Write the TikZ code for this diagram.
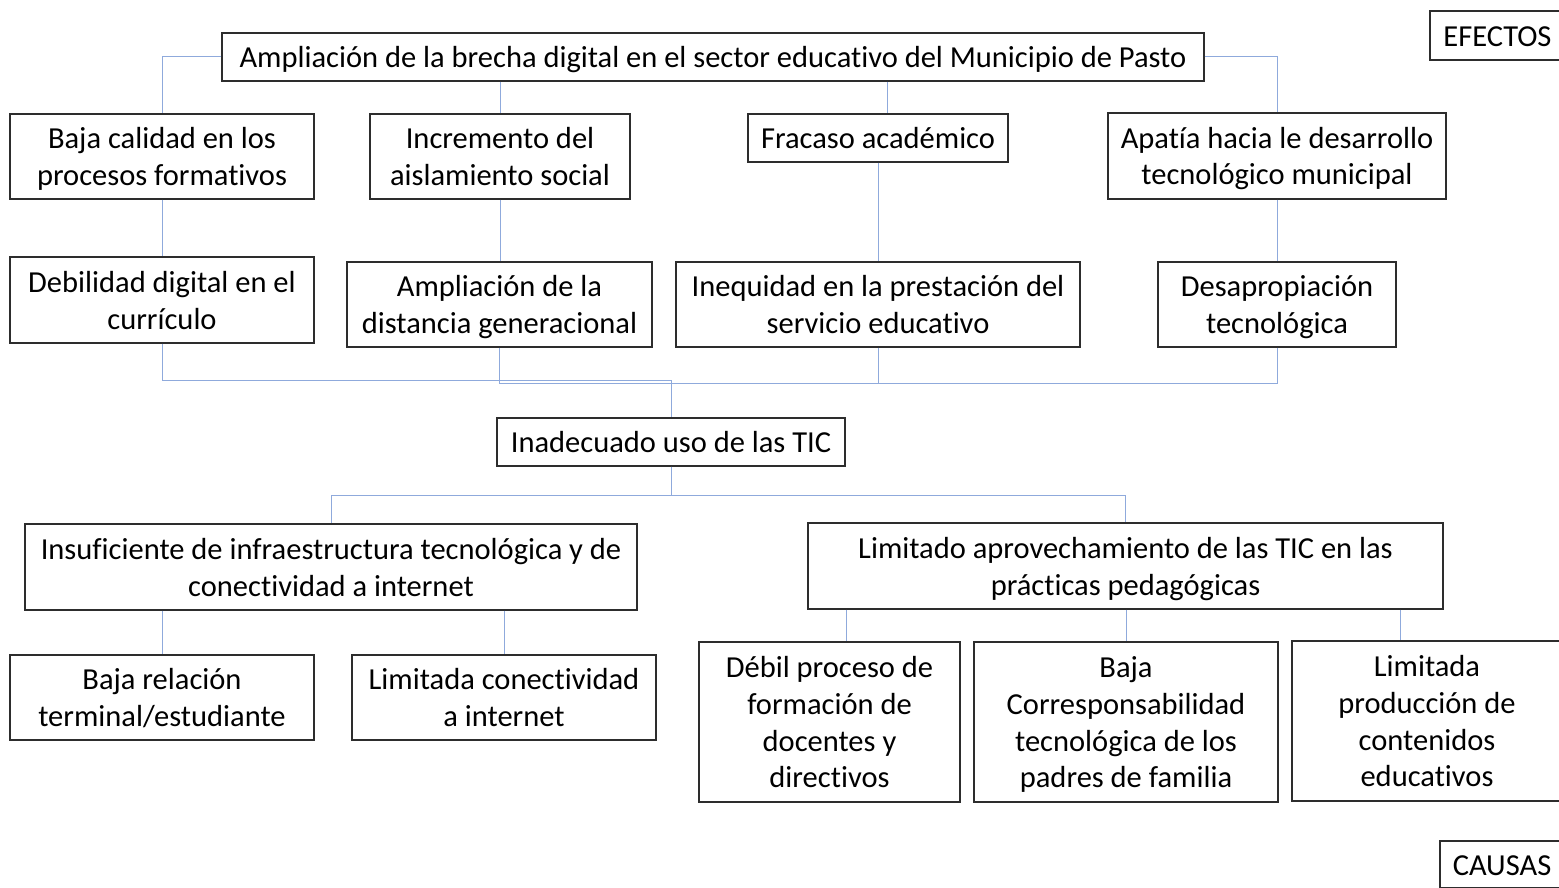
\documentclass[tikz,border=0pt]{standalone}
\usepackage{fontspec}
\setmainfont{Carlito}[Ligatures=NoCommon]
\definecolor{linkblue}{RGB}{143,170,220}
\definecolor{boxgray}{RGB}{45,45,45}
\newcommand{\lnst}{\rule[-7.1pt]{0pt}{35.6pt}}
\begin{document}
\begin{tikzpicture}[x=1pt,y=-1pt,
  box/.style={draw=boxgray, line width=1.1pt, align=center, inner sep=0pt, fill=white,
    font=\fontsize{30.5}{36.6}\selectfont},
  link/.style={draw=linkblue, line width=1pt}]
\useasboundingbox (0,0) rectangle (1559,888);
% effects
\node[box, minimum width=135, minimum height=49] (efe) at (1497.5,35.5) {\lnst EFECTOS};
\node[box, minimum width=982, minimum height=48] (top) at (713,57) {\lnst Ampliación de la brecha digital en el sector educativo del Municipio de Pasto};
\node[box, minimum width=304, minimum height=85] (baja) at (162,156.5) {\lnst Baja calidad en los\\\lnst procesos formativos};
\node[box, minimum width=260, minimum height=85] (inc) at (500,156.5) {\lnst Incremento del\\\lnst aislamiento social};
\node[box, minimum width=260, minimum height=48] (fra) at (878,138) {\lnst Fracaso académico};
\node[box, minimum width=338, minimum height=86] (apa) at (1277,156) {\lnst Apatía hacia le desarrollo\\\lnst tecnológico municipal};
\node[box, minimum width=304, minimum height=86] (deb) at (162,300) {\lnst Debilidad digital en el\\\lnst currículo};
\node[box, minimum width=305, minimum height=85] (amp) at (499.5,304.5) {\lnst Ampliación de la\\\lnst distancia generacional};
\node[box, minimum width=404, minimum height=85] (ineq) at (878,304.5) {\lnst Inequidad en la prestación del\\\lnst servicio educativo};
\node[box, minimum width=238, minimum height=85] (desa) at (1277,304.5) {\lnst Desapropiación\\\lnst tecnológica};
% central problem
\node[box, minimum width=348, minimum height=48] (inad) at (671,442) {\lnst Inadecuado uso de las TIC};
% causes
\node[box, minimum width=612, minimum height=86] (insu) at (331,567) {\lnst Insuficiente de infraestructura tecnológica y de\\\lnst conectividad a internet};
\node[box, minimum width=635, minimum height=86] (limi) at (1125.5,566) {\lnst Limitado aprovechamiento de las TIC en las\\\lnst prácticas pedagógicas};
\node[box, minimum width=304, minimum height=85] (brel) at (162,697.5) {\lnst Baja relación\\\lnst terminal/estudiante};
\node[box, minimum width=304, minimum height=85] (lcon) at (504,697.5) {\lnst Limitada conectividad\\\lnst a internet};
\node[box, minimum width=261, minimum height=160] (debil) at (829.5,722) {\lnst Débil proceso de\\\lnst formación de\\\lnst docentes y\\\lnst directivos};
\node[box, minimum width=304, minimum height=160] (bcor) at (1126,722) {\lnst Baja\\\lnst Corresponsabilidad\\\lnst tecnológica de los\\\lnst padres de familia};
\node[box, minimum width=270, minimum height=160] (lpro) at (1427,721) {\lnst Limitada\\\lnst producción de\\\lnst contenidos\\\lnst educativos};
\node[box, minimum width=124, minimum height=47] (cau) at (1502,864.5) {\lnst CAUSAS};
% connectors: effects
\draw[link] (top.west) -| (baja.north);
\draw[link] (top.south -| inc.north) -- (inc.north);
\draw[link] ([xshift=9pt]top.south -| fra.north) -- ([xshift=9pt]fra.north);
\draw[link] (top.east) -| (apa.north);
\draw[link] (baja.south) -- (deb.north);
\draw[link] (inc.south) -- (amp.north -| inc.south);
\draw[link] (fra.south) -- (ineq.north);
\draw[link] (apa.south) -- (desa.north);
\draw[link] (deb.south) -- ++(0,37) -| (inad.north);
\draw[link] (amp.south) -- ++(0,36) -| (inad.north);
\draw[link] (ineq.south) -- ++(0,36) -| (inad.north);
\draw[link] (desa.south) -- ++(0,36) -| (inad.north);
% connectors: causes
\draw[link] (inad.south) -- ++(0,29) -| (insu.north);
\draw[link] (inad.south) -- ++(0,29) -| (limi.north);
\draw[link] (insu.south -| brel.north) -- (brel.north);
\draw[link] (insu.south -| lcon.north) -- (lcon.north);
\draw[link] ([xshift=16.5pt]limi.south -| debil.north) -- ([xshift=16.5pt]debil.north);
\draw[link] (limi.south -| bcor.north) -- (bcor.north);
\draw[link] ([xshift=-27pt]limi.south -| lpro.north) -- ([xshift=-27pt]lpro.north);
\end{tikzpicture}
\end{document}
